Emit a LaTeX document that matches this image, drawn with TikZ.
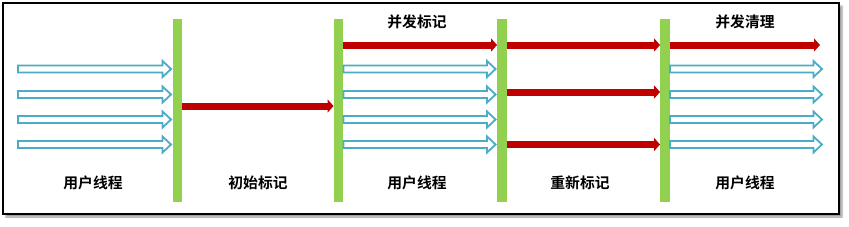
\documentclass[tikz,border=0pt]{standalone}
\usepackage{fontspec}
\usepackage{xcolor}
\usepackage{tikz}
\usetikzlibrary{arrows.meta,positioning,calc,shadows.blur}
\newfontfamily\cjk{Noto Sans CJK SC}[BoldFont={Noto Sans CJK SC Bold}]
\definecolor{GCbar}{RGB}{146,208,80}
\definecolor{GCred}{RGB}{192,0,0}
\definecolor{GCblue}{RGB}{75,172,198}
\tikzset{
  frame/.style={draw=black,line width=2pt,fill=white,
                blur shadow={shadow xshift=3pt,shadow yshift=-3pt,shadow blur steps=5}},
  pause/.style={rectangle,fill=GCbar,minimum width=9.5pt,minimum height=183pt,
                inner sep=0pt},
  gcrun/.style={-{Triangle[length=6pt,width=13pt]},line width=7pt,GCred},
  userrun/.style={draw=GCblue,line width=1.8pt,fill=white,line join=miter,
    to path={let \p1=(\tikztostart),\p2=(\tikztotarget) in
      (\x1,\y1+3.5pt) -- (\x2-10pt,\y1+3.5pt) -- (\x2-10pt,\y1+8pt)
      -- (\x2-1.5pt,\y1) -- (\x2-10pt,\y1-8pt) -- (\x2-10pt,\y1-3.5pt)
      -- (\x1,\y1-3.5pt) -- cycle}},
  phase/.style={font=\cjk\bfseries\fontsize{14.8}{15}\selectfont,inner sep=0pt},
}

\begin{document}
\begin{tikzpicture}[x=1pt,y=-1pt]
  \useasboundingbox (0,0) rectangle (849,226);
  \draw[frame] (3,3) rectangle (839,214);
  % stop-the-world bars
  \node[pause] (b1) at (177.5,110.5) {};
  \node[pause] (b2) at (338.5,110.5) {};
  \node[pause] (b3) at (502,110.5) {};
  \node[pause] (b4) at (665,110.5) {};
  % rows
  \coordinate (r0) at (0,45);
  \coordinate (r1) at (0,69);
  \coordinate (r2) at (0,94.5);
  \coordinate (r3) at (0,119.5);
  \coordinate (r4) at (0,144.5);
  \coordinate (rm) at (0,106);
  \coordinate (rr) at (0,92);
  \coordinate (s0) at (18,0);
  \coordinate (e0) at (823.5,0);
  \coordinate (e1) at (820,0);
  % user threads
  \foreach \r in {r1,r2,r3,r4}{
    \path[userrun] (s0 |- \r) to (b1.west |- \r);
    \path[userrun] (b2.east |- \r) to (b3.west |- \r);
    \path[userrun] (b4.east |- \r) to (e0 |- \r);
  }
  % gc threads
  \draw[gcrun] (b1.east |- rm) -- (b2.west |- rm);
  \draw[gcrun] (b2.east |- r0) -- (b3.west |- r0);
  \foreach \r in {r0,rr,r4}
    \draw[gcrun] (b3.east |- \r) -- (b4.west |- \r);
  \draw[gcrun] (b4.east |- r0) -- (e1 |- r0);
  % labels
  \node[phase] (l1) at (93,183) {用户线程};
  \node[phase] (l2) at (258,183) {初始标记};
  \node[phase] (l3) at (417,183) {用户线程};
  \node[phase] (l4) at (580,183) {重新标记};
  \node[phase] (l5) at (745,183) {用户线程};
  \node[phase] (t1) at (417,22) {并发标记};
  \node[phase] (t2) at (745,22) {并发清理};
\end{tikzpicture}
\end{document}
